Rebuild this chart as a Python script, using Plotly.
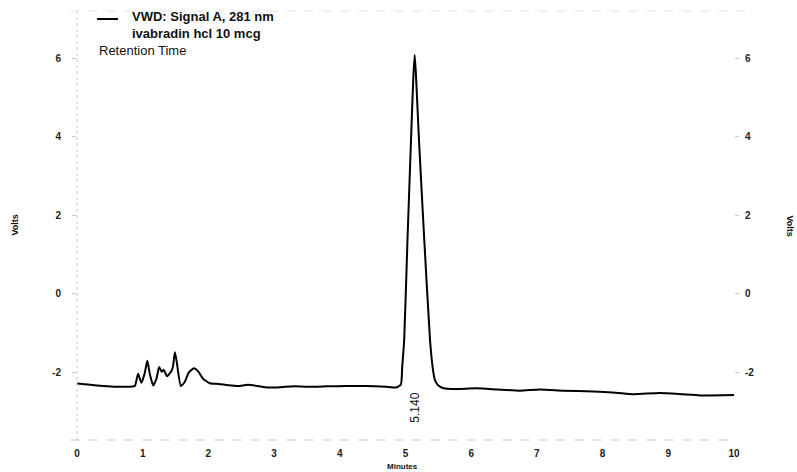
import plotly.graph_objects as go

# ---- data ----
minutes = [0.00, 0.20, 0.40, 0.60, 0.80, 0.88, 0.93, 0.98, 1.03, 1.07, 1.11, 1.16,
           1.21, 1.25, 1.29, 1.32, 1.37, 1.43, 1.46, 1.49, 1.52, 1.58, 1.64, 1.70,
           1.78, 1.85, 1.92, 1.97, 2.02, 2.16, 2.30, 2.45, 2.60, 2.75, 2.90, 3.10,
           3.30, 3.50, 3.80, 4.10, 4.40, 4.70, 4.86, 4.93, 4.95, 4.98, 5.03, 5.084,
           5.12, 5.14, 5.16, 5.205, 5.286, 5.373, 5.42, 5.45, 5.50, 5.58, 5.75, 6.08,
           6.40, 6.74, 7.05, 7.40, 7.86, 8.20, 8.47, 8.87, 9.20, 9.48, 10.00]
volts = [-2.28, -2.31, -2.34, -2.36, -2.36, -2.34, -2.03, -2.26, -2.02, -1.70, -2.05, -2.33,
         -2.15, -1.86, -1.98, -1.93, -2.09, -1.98, -1.85, -1.48, -1.75, -2.34, -2.24, -2.00,
         -1.89, -1.98, -2.16, -2.22, -2.27, -2.29, -2.32, -2.34, -2.31, -2.34, -2.38, -2.37,
         -2.35, -2.36, -2.35, -2.34, -2.34, -2.36, -2.38, -2.30, -1.85, -1.17, 1.37, 3.92,
         5.55, 6.08, 5.55, 3.92, 1.37, -1.17, -1.95, -2.20, -2.33, -2.40, -2.42, -2.40,
         -2.43, -2.46, -2.43, -2.46, -2.48, -2.51, -2.55, -2.52, -2.55, -2.58, -2.57]

peak_time = 5.140
peak_label = "5.140"
y_ticks = [-2, 0, 2, 4, 6]
y_ticktext = ["-2", "0", "2", "4", "6"]
x_ticks = [0, 1, 2, 3, 4, 5, 6, 7, 8, 9, 10]
x_ticktext = ["0", "1", "2", "3", "4", "5", "6", "7", "8", "9", "10"]

FONT = "Arial, Liberation Sans, Helvetica, sans-serif"
Y_RANGE = [-3.715, 7.20]
GRID = "#c8c8c8"

fig = go.Figure()
fig.add_trace(go.Scatter(x=minutes, y=volts, mode="lines",
                         line=dict(color="black", width=2, shape="spline", smoothing=0.5),
                         showlegend=False, hoverinfo="x+y"))
# companion trace for right axis
fig.add_trace(go.Scatter(x=minutes, y=volts, mode="lines", yaxis="y2",
                         line=dict(color="rgba(0,0,0,0)", width=0),
                         showlegend=False, hoverinfo="skip"))

tickfont = dict(family=FONT, size=10, color="#222")
bold = lambda arr: ["<b>%s</b>" % t for t in arr]
fig.update_layout(
    width=797, height=472,
    margin=dict(l=77, r=63, t=11, b=32),
    paper_bgcolor="white", plot_bgcolor="white",
    xaxis=dict(range=[0, 10], tickvals=x_ticks, ticktext=bold(x_ticktext),
               showgrid=False, zeroline=False,
               showline=False, ticks="", tickfont=tickfont, ticklabelstandoff=6),
    yaxis=dict(range=Y_RANGE, tickvals=y_ticks, ticktext=bold(y_ticktext),
               showgrid=False, zeroline=False,
               showline=False, ticks="outside", ticklen=4, tickcolor=GRID,
               tickfont=tickfont, ticklabelstandoff=9),
    yaxis2=dict(range=Y_RANGE, tickvals=y_ticks, ticktext=bold(y_ticktext),
                overlaying="y", side="right",
                showgrid=False, zeroline=False, showline=False, ticks="outside",
                ticklen=4, tickcolor=GRID, tickfont=tickfont, ticklabelstandoff=4),
    shapes=[
        dict(type="line", xref="paper", yref="paper", x0=0, x1=0, y0=0, y1=1,
             line=dict(color=GRID, width=1, dash="dot")),
        dict(type="line", xref="paper", yref="paper", x0=-0.01, x1=1.0, y0=0, y1=0,
             line=dict(color=GRID, width=1, dash="dash")),
        dict(type="line", xref="paper", yref="paper", x0=-0.01, x1=1.02, y0=1, y1=1,
             line=dict(color="#e2e2e2", width=1, dash="dash")),
        # legend line sample
        dict(type="line", xref="paper", yref="paper", x0=0.0304, x1=0.0624,
             y0=(440 - 19) / 429, y1=(440 - 19) / 429, line=dict(color="black", width=2)),
    ],
    annotations=[
        dict(text="<b>VWD: Signal A, 281 nm</b>",
             xref="paper", yref="paper", x=0.0807, y=(440 - 16) / 429, xanchor="left",
             yanchor="middle", showarrow=False, font=dict(family=FONT, size=13, color="#111")),
        dict(text="<b>ivabradin hcl 10 mcg</b>",
             xref="paper", yref="paper", x=0.0807, y=(440 - 33) / 429, xanchor="left",
             yanchor="middle", showarrow=False, font=dict(family=FONT, size=13, color="#111")),
        dict(text="Retention Time", xref="paper", yref="paper", x=0.0304, y=(440 - 50) / 429,
             xanchor="left", yanchor="middle", showarrow=False,
             font=dict(family=FONT, size=13, color="#111")),
        dict(text=peak_label, x=peak_time, y=-2.9, xref="x", yref="y", textangle=-90,
             showarrow=False, font=dict(family=FONT, size=12, color="#111")),
        dict(text="<b>Minutes</b>", xref="paper", yref="paper", x=(402 - 77) / 657,
             y=(440 - 466) / 429, xanchor="center", yanchor="middle", showarrow=False,
             font=dict(family=FONT, size=8, color="#111")),
        dict(text="<b>Volts</b>", xref="paper", yref="paper", x=(14 - 77) / 657, y=0.5,
             xanchor="center", yanchor="middle", textangle=-90, showarrow=False,
             font=dict(family=FONT, size=9, color="#111")),
        dict(text="<b>Volts</b>", xref="paper", yref="paper", x=(790 - 77) / 657, y=0.5,
             xanchor="center", yanchor="middle", textangle=90, showarrow=False,
             font=dict(family=FONT, size=9, color="#111")),
    ],
)

fig.write_html("out.html")
